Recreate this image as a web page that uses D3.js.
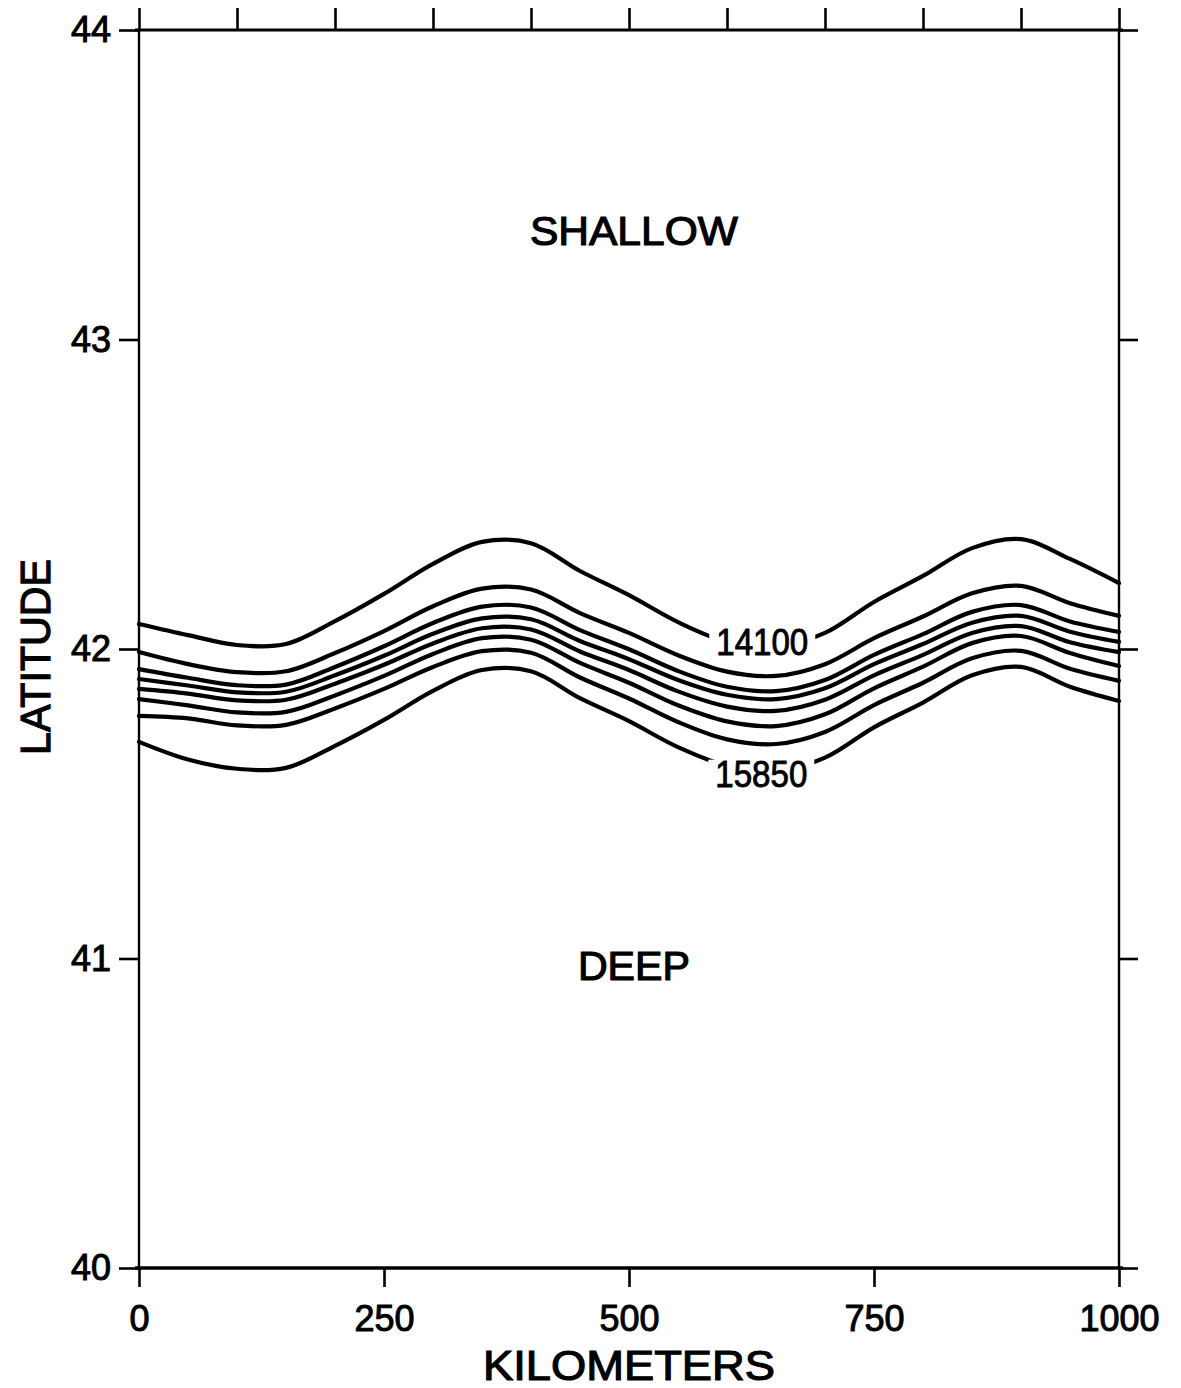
<!DOCTYPE html>
<html>
<head>
<meta charset="utf-8">
<script src="https://cdn.jsdelivr.net/npm/d3@7"></script>
<style>
  html, body { margin: 0; padding: 0; background: #fff; }
  svg { display: block; }
  text { font-family: "Liberation Sans", Arial, sans-serif; fill: #000; }
</style>
</head>
<body>
<svg id="chart" width="1181" height="1388"></svg>
<script>
// ---------------- DATA ----------------
const xKm = [0, 50, 100, 150, 200, 250, 300, 350, 400, 450, 500, 550, 600, 650, 700, 750, 800, 850, 900, 950, 1000];

const levels = [14100, 14350, 14600, 14850, 15100, 15350, 15600, 15850];

const lat14100 = [42.081, 42.045, 42.013, 42.016, 42.090, 42.178, 42.275, 42.346, 42.342, 42.252, 42.174, 42.087, 42.023, 42.006, 42.052, 42.152, 42.236, 42.326, 42.355, 42.291, 42.213];
const lat14350 = [41.990, 41.951, 41.925, 41.928, 41.987, 42.058, 42.138, 42.195, 42.192, 42.116, 42.052, 41.980, 41.927, 41.913, 41.951, 42.035, 42.105, 42.180, 42.204, 42.148, 42.107];
const lat14600 = [41.935, 41.907, 41.883, 41.885, 41.942, 42.009, 42.084, 42.137, 42.134, 42.061, 41.999, 41.929, 41.878, 41.864, 41.900, 41.981, 42.048, 42.120, 42.142, 42.089, 42.055];
const lat14850 = [41.903, 41.882, 41.860, 41.862, 41.915, 41.978, 42.049, 42.099, 42.096, 42.026, 41.967, 41.900, 41.852, 41.838, 41.873, 41.951, 42.016, 42.085, 42.107, 42.056, 42.023];
const lat15100 = [41.871, 41.856, 41.834, 41.836, 41.888, 41.949, 42.018, 42.067, 42.063, 41.992, 41.932, 41.863, 41.814, 41.800, 41.836, 41.915, 41.981, 42.052, 42.074, 42.022, 41.990];
const lat15350 = [41.838, 41.818, 41.795, 41.797, 41.850, 41.913, 41.984, 42.035, 42.030, 41.955, 41.891, 41.818, 41.766, 41.751, 41.789, 41.873, 41.943, 42.019, 42.042, 41.987, 41.945];
const lat15600 = [41.784, 41.776, 41.753, 41.755, 41.808, 41.871, 41.942, 41.993, 41.988, 41.908, 41.840, 41.764, 41.708, 41.693, 41.732, 41.819, 41.891, 41.970, 41.994, 41.936, 41.897];
const lat15850 = [41.700, 41.643, 41.613, 41.616, 41.687, 41.771, 41.865, 41.932, 41.928, 41.841, 41.767, 41.683, 41.623, 41.606, 41.649, 41.747, 41.827, 41.915, 41.942, 41.878, 41.832];

const contourLats = [lat14100, lat14350, lat14600, lat14850, lat15100, lat15350, lat15600, lat15850];

// labelled contours: level, km position, latitude of label centre
const labelLevels = [14100, 15850];
const labelKm = [636, 635];
const labelLat = [42.022, 41.594];

const yTicks = [40, 41, 42, 43, 44];
const xLabelTicks = [0, 250, 500, 750, 1000];
const xTopTicks = [0, 100, 200, 300, 400, 500, 600, 700, 800, 900, 1000];

const regionNames = ["SHALLOW", "DEEP"];
const regionKm = [505, 505];
const regionLat = [43.305, 40.93];

// ---------------- DRAW ----------------
const svg = d3.select("#chart");
const x = d3.scaleLinear().domain([0, 1000]).range([139, 1119]);
const y = d3.scaleLinear().domain([40, 44]).range([1268, 30]);

// contour lines
const line = d3.line()
  .x((d, i) => x(xKm[i]))
  .y(d => y(d))
  .curve(d3.curveCatmullRom.alpha(0.5));

svg.append("g").selectAll("path")
  .data(contourLats)
  .join("path")
  .attr("d", d => line(d))
  .attr("fill", "none")
  .attr("stroke", "#000")
  .attr("stroke-width", 4.2)
  .attr("stroke-linejoin", "round")
  .attr("stroke-linecap", "round");

// contour labels (gap in line + text)
const lab = svg.append("g");
labelLevels.forEach((lv, i) => {
  const cx = x(labelKm[i]), cy = y(labelLat[i]);
  lab.append("rect")
    .attr("x", cx - 53).attr("y", cy - 15)
    .attr("width", 106).attr("height", 30)
    .attr("fill", "#fff");
  lab.append("text")
    .attr("x", cx).attr("y", cy)
    .attr("text-anchor", "middle")
    .attr("dominant-baseline", "central")
    .attr("font-size", 36)
    .attr("stroke", "#000").attr("stroke-width", 0.9)
    .attr("textLength", 92).attr("lengthAdjust", "spacingAndGlyphs")
    .text(String(lv));
});

// axes
const axisFont = 36;
const gLeft = svg.append("g").attr("transform", `translate(${x(0)},0)`)
  .call(d3.axisLeft(y).tickValues(yTicks).tickSize(20).tickSizeOuter(0).tickPadding(8).tickFormat(d3.format("d")));
const gRight = svg.append("g").attr("transform", `translate(${x(1000)},0)`)
  .call(d3.axisRight(y).tickValues(yTicks).tickSize(19).tickSizeOuter(0).tickFormat(""));
const gTop = svg.append("g").attr("transform", `translate(0,${y(44)})`)
  .call(d3.axisTop(x).tickValues(xTopTicks).tickSize(22).tickSizeOuter(0).tickFormat(""));
const gBottom = svg.append("g").attr("transform", `translate(0,${y(40)})`)
  .call(d3.axisBottom(x).tickValues(xLabelTicks).tickSize(19).tickSizeOuter(0).tickPadding(18).tickFormat(d3.format("d")));

[gLeft, gRight, gTop, gBottom].forEach(g => {
  g.select(".domain").remove();
  g.selectAll(".tick line").attr("stroke", "#000").attr("stroke-width", 2.6);
  g.selectAll(".tick text")
    .attr("font-family", "Liberation Sans, Arial, sans-serif")
    .attr("font-size", axisFont)
    .attr("fill", "#000")
    .attr("stroke", "#000").attr("stroke-width", 1.0);
});

// frame
const frame = svg.append("g").attr("stroke", "#000").attr("fill", "none");
frame.append("line").attr("x1", x(0) - 4).attr("x2", x(1000) + 4).attr("y1", y(44)).attr("y2", y(44)).attr("stroke-width", 3.2);
frame.append("line").attr("x1", x(0) - 4).attr("x2", x(1000) + 4).attr("y1", y(40)).attr("y2", y(40)).attr("stroke-width", 3.6);
frame.append("line").attr("x1", x(0)).attr("x2", x(0)).attr("y1", y(44)).attr("y2", y(40)).attr("stroke-width", 2.4);
frame.append("line").attr("x1", x(1000)).attr("x2", x(1000)).attr("y1", y(44)).attr("y2", y(40)).attr("stroke-width", 2.4);

// region labels
regionNames.forEach((t, i) => {
  svg.append("text")
    .attr("x", x(regionKm[i])).attr("y", y(regionLat[i]))
    .attr("text-anchor", "middle")
    .attr("font-size", 41)
    .attr("stroke", "#000").attr("stroke-width", 1.2)
    .attr("textLength", i === 0 ? 208 : 112).attr("lengthAdjust", "spacingAndGlyphs")
    .text(t);
});

// axis titles
svg.append("text")
  .attr("x", (x(0) + x(1000)) / 2).attr("y", 1380)
  .attr("text-anchor", "middle")
  .attr("font-size", 42)
  .attr("stroke", "#000").attr("stroke-width", 1.2)
  .attr("textLength", 292).attr("lengthAdjust", "spacingAndGlyphs")
  .text("KILOMETERS");

svg.append("text")
  .attr("transform", `translate(50,${657}) rotate(-90)`)
  .attr("text-anchor", "middle")
  .attr("font-size", 43)
  .attr("stroke", "#000").attr("stroke-width", 1.2)
  .attr("textLength", 196).attr("lengthAdjust", "spacingAndGlyphs")
  .text("LATITUDE");
</script>
</body>
</html>
